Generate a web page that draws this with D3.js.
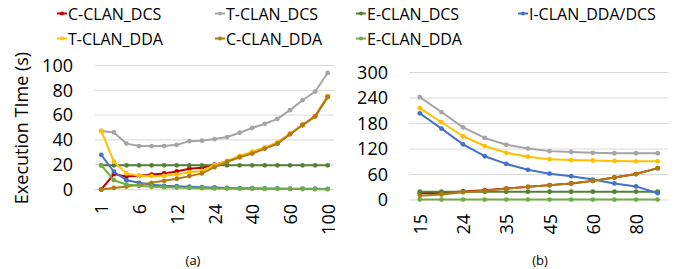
<!DOCTYPE html>
<html><head><meta charset="utf-8">
<script src="https://cdn.jsdelivr.net/npm/d3@7"></script>
<style>body{margin:0;background:#fff}svg{display:block}text{font-family:"Open Sans",sans-serif;fill:#000}</style>
</head><body><svg id="c" width="675" height="269"></svg>
<script>
// ---- data ----
const seriesNames = ["C-CLAN_DCS","T-CLAN_DCS","E-CLAN_DCS","I-CLAN_DDA/DCS","T-CLAN_DDA","C-CLAN_DDA","E-CLAN_DDA"];
const seriesColors = ["#c00000","#a5a5a5","#548235","#4472c4","#ffc000","#b07c10","#70ad47"];

// panel (a)
const catsA = ["1","2","4","6","8","10","12","16","20","24","28","32","40","45","50","60","70","80","100"];
const tickLabelsA = ["1","6","12","24","40","60","100"];
const yTicksA = [0,20,40,60,80,100];
const aCDCS = [0,12.4,10.5,11,12,13,14.6,16.7,17.5,20,22.6,26.3,29.5,33.3,37.2,44.8,52,59,75];
const aTDCS = [47.2,46,37,35,35,35,36,39,39.4,40.7,42.3,45.8,49.6,53,57,64,72,79,94];
const aEDCS = [19.5,19.5,19.5,19.5,19.5,19.5,19.5,19.5,19.5,19.5,19.5,19.5,19.5,19.5,19.5,19.5,19.5,19.5,19.5];
const aIDDA = [28,14.3,7.5,5.4,3.8,3,2.7,2.2,1.9,1.6,1.3,1.1,1,0.9,0.8,0.7,0.6,0.6,0.5];
const aTDDA = [47.2,22.4,13,11,10.8,11,12,14,15,19.7,23,27,30.5,34,38,45,52,59,75];
const aCDDA = [0,1.3,2.4,3.8,5.4,7,8.6,10.8,13,18,22.4,26,29,33,37,44.5,52,59,74.5];
const aEDDA = [19.4,7.5,4,3,2.2,1.9,1.6,1.3,1.1,0.9,0.8,0.7,0.6,0.5,0.5,0.4,0.4,0.3,0.3];

// panel (b)
const catsB = ["15","20","24","30","35","40","45","50","60","70","80","90"];
const tickLabelsB = ["15","24","35","45","60","80"];
const yTicksB = [0,60,120,180,240,300];
const bCDCS = [16,17,20,23,27,31,35,39,45,53,61,75];
const bTDCS = [242,207,171,146,130,121,115,113,111,110,110,110];
const bEDCS = [19.5,19.5,19.5,19.5,19.5,19.5,19.5,19.5,19.5,19.5,19.5,19.5];
const bIDDA = [204,168,131,103,85,71,62,56,48,39,32,16];
const bTDDA = [216,183,150,127,111,102,96,94,93,92,91,91];
const bCDDA = [10,13,18,22,27,31,35,39,45,53,61,75];
const bEDDA = [1,1,1,1,1,1,1,1,1,1,1,1];

const seriesA = [aCDCS,aTDCS,aEDCS,aIDDA,aTDDA,aCDDA,aEDDA];
const seriesB = [bCDCS,bTDCS,bEDCS,bIDDA,bTDDA,bCDDA,bEDDA];

const svg = d3.select("#c");

function panel(cats, ticks, yTicks, series, x0, x1, y0, y1, yMax, labelX, tickTop, caption, capX) {
  const x = d3.scaleBand().domain(cats).range([x0, x1]);
  const y = d3.scaleLinear().domain([0, yMax]).range([y0, y1]);
  const g = svg.append("g");
  // gridlines
  g.selectAll(".grid").data(yTicks).enter().append("line")
    .attr("x1", x0).attr("x2", x1).attr("y1", d => y(d)).attr("y2", d => y(d))
    .attr("stroke", "#d9d9d9").attr("stroke-width", 1);
  // y labels
  const ya = d3.axisLeft(y).tickValues(yTicks).tickSize(0).tickPadding(0);
  const yg = g.append("g").attr("transform", `translate(${labelX},0)`).call(ya);
  yg.select(".domain").remove();
  yg.selectAll("text").attr("font-size", 18).style("font-family", '"Open Sans",sans-serif').attr("fill", "#000");
  // x labels
  const xa = d3.axisBottom(x).tickValues(ticks).tickSize(0).tickPadding(0);
  const xg = g.append("g").attr("transform", `translate(0,${tickTop})`).call(xa);
  xg.select(".domain").remove();
  xg.selectAll("text").attr("font-size", 18).style("font-family", '"Open Sans",sans-serif').attr("fill", "#000")
    .attr("text-anchor", "end").attr("dy", null).attr("y", 0)
    .attr("transform", "rotate(-90)").attr("x", 0).attr("dominant-baseline", "central");
  // lines
  const line = d3.line().x((d, i) => x(cats[i]) + x.bandwidth() / 2).y(d => y(d));
  series.forEach((s, k) => {
    g.append("path").datum(s).attr("d", line).attr("fill", "none")
      .attr("stroke", seriesColors[k]).attr("stroke-width", 2).attr("stroke-linejoin", "round");
    g.selectAll(null).data(s).enter().append("circle")
      .attr("cx", (d, i) => x(cats[i]) + x.bandwidth() / 2).attr("cy", d => y(d))
      .attr("r", 2.4).attr("fill", seriesColors[k]);
  });
  svg.append("text").attr("x", capX).attr("y", 260).attr("text-anchor", "middle")
    .attr("dominant-baseline", "central").attr("font-size", 13).text(caption);
}

panel(catsA, tickLabelsA, yTicksA, seriesA, 95, 334, 189.5, 65.5, 100, 73, 204, "(a)", 193);
panel(catsB, tickLabelsB, yTicksB, seriesB, 409, 668.5, 200, 72.5, 300, 388, 214, "(b)", 540);

// y title
svg.append("text").attr("transform", "translate(21,128) rotate(-90)")
  .attr("text-anchor", "middle").attr("dominant-baseline", "central").attr("font-size", 18)
  .text("Execution TIme (s)");

// legend
const legPos = [[57,13.5],[215,13.5],[356,13.5],[518,13.5],[57,38.5],[215,38.5],[356,38.5]];
seriesNames.forEach((n, k) => {
  const [lx, ly] = legPos[k];
  const lg = svg.append("g");
  lg.append("line").attr("x1", lx).attr("x2", lx + 10).attr("y1", ly).attr("y2", ly)
    .attr("stroke", seriesColors[k]).attr("stroke-width", 2);
  lg.append("circle").attr("cx", lx + 5).attr("cy", ly).attr("r", 2).attr("fill", seriesColors[k]);
  lg.append("text").attr("x", lx + 11).attr("y", ly).attr("dominant-baseline", "central")
    .attr("font-size", 16).text(n);
});
</script></body></html>
